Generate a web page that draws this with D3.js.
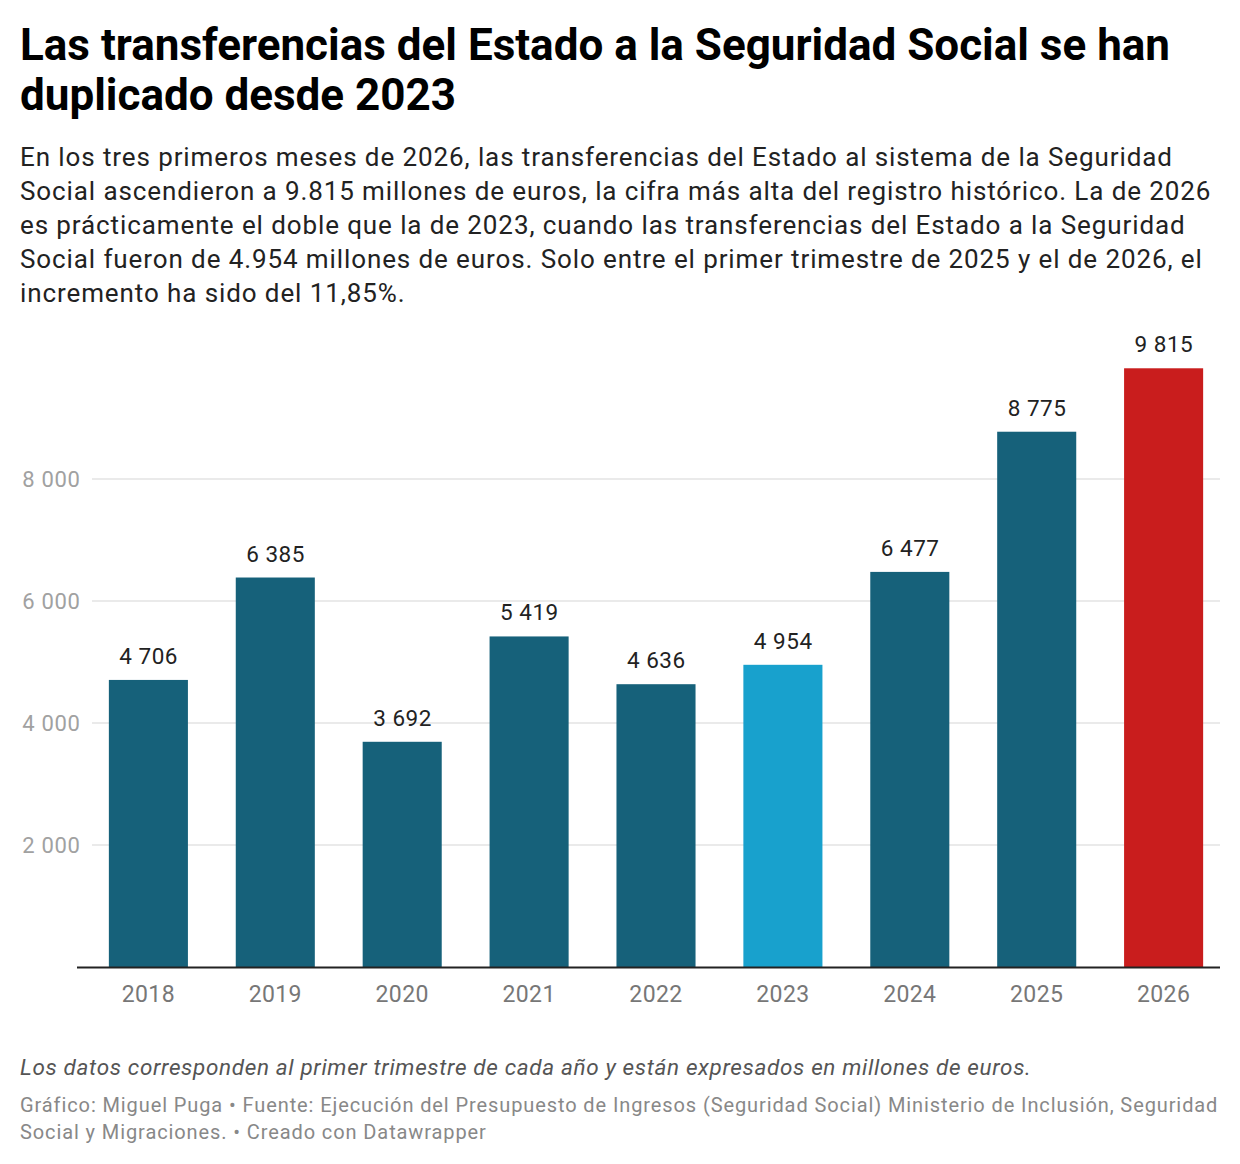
<!DOCTYPE html>
<html>
<head>
<meta charset="utf-8">
<script src="https://cdn.jsdelivr.net/npm/d3@7"></script>
<style>
  body { margin: 0; background: #fff; }
  svg { font-family: Roboto, "Noto Sans", sans-serif; }
</style>
</head>
<body>
<div id="chart"></div>
<script>
// data
const years = ["2018", "2019", "2020", "2021", "2022", "2023", "2024", "2025", "2026"]
const values = [4706, 6385, 3692, 5419, 4636, 4954, 6477, 8775, 9815]
const yTicks = [2000, 4000, 6000, 8000]

const titleLines = [
    "Las transferencias del Estado a la Seguridad Social se han",
    "duplicado desde 2023"
]
const subtitleLines = [
    "En los tres primeros meses de 2026, las transferencias del Estado al sistema de la Seguridad",
    "Social ascendieron a 9.815 millones de euros, la cifra más alta del registro histórico. La de 2026",
    "es prácticamente el doble que la de 2023, cuando las transferencias del Estado a la Seguridad",
    "Social fueron de 4.954 millones de euros. Solo entre el primer trimestre de 2025 y el de 2026, el",
    "incremento ha sido del 11,85%."
]
const note = "Los datos corresponden al primer trimestre de cada año y están expresados en millones de euros."
const creditLines = [
    "Gráfico: Miguel Puga • Fuente: Ejecución del Presupuesto de Ingresos (Seguridad Social) Ministerio de Inclusión, Seguridad",
    "Social y Migraciones. • Creado con Datawrapper"
]

function barColor(year) {
    if (year == "2023") return "#18a1cd"
    if (year == "2026") return "#c91d1d"
    return "#16617a"
}

// "4 706" style numbers
const fmt = v => d3.format(",")(v).replace(/,/g, " ")

const W = 1240, H = 1164
const svg = d3.select("#chart").append("svg").attr("width", W).attr("height", H)

// header
svg.append("g").selectAll("text")
    .data(titleLines)
    .enter()
    .append("text")
    .attr("x", 20)
    .attr("y", (d, i) => 60 + i * 50)
    .attr("font-size", 44)
    .attr("font-weight", 700)
    .attr("fill", "#000")
    .text(d => d)

svg.append("g").selectAll("text")
    .data(subtitleLines)
    .enter()
    .append("text")
    .attr("x", 20)
    .attr("y", (d, i) => 166 + i * 34)
    .attr("font-size", 26)
    .attr("letter-spacing", 0.9)
    .attr("fill", "#222")
    .text(d => d)

// chart
const x = d3.scaleBand().domain(years).range([85, 1227]).paddingInner(0.377).paddingOuter(0.188)
const y = d3.scaleLinear().domain([0, 2000]).range([967, 845])

const grid = svg.append("g")
grid.selectAll("line")
    .data(yTicks)
    .enter()
    .append("line")
    .attr("x1", 92)
    .attr("x2", 1220)
    .attr("y1", d => y(d))
    .attr("y2", d => y(d))
    .attr("stroke", "#e3e3e3")
    .attr("stroke-width", 1.3)

grid.selectAll("text")
    .data(yTicks)
    .enter()
    .append("text")
    .attr("x", 80.7)
    .attr("y", d => y(d) + 8)
    .attr("text-anchor", "end")
    .attr("font-size", 22)
    .attr("letter-spacing", 0.7)
    .attr("fill", "#a1a1a1")
    .text(d => fmt(d))

svg.append("g").selectAll("rect")
    .data(years)
    .enter()
    .append("rect")
    .attr("x", d => x(d))
    .attr("width", x.bandwidth())
    .attr("y", (d, i) => y(values[i]))
    .attr("height", (d, i) => y(0) - y(values[i]))
    .attr("fill", d => barColor(d))

svg.append("g").selectAll("text")
    .data(years)
    .enter()
    .append("text")
    .attr("x", d => x(d) + x.bandwidth() / 2 + 0.3)
    .attr("y", (d, i) => y(values[i]) - 16)
    .attr("text-anchor", "middle")
    .attr("font-size", 22.5)
    .attr("letter-spacing", 0.5)
    .attr("fill", "#222")
    .text((d, i) => fmt(values[i]))

svg.append("line")
    .attr("x1", 77)
    .attr("x2", 1220)
    .attr("y1", y(0) + 0.5)
    .attr("y2", y(0) + 0.5)
    .attr("stroke", "#222")
    .attr("stroke-width", 2)

svg.append("g").selectAll("text")
    .data(years)
    .enter()
    .append("text")
    .attr("x", d => x(d) + x.bandwidth() / 2)
    .attr("y", 1002)
    .attr("text-anchor", "middle")
    .attr("font-size", 23)
    .attr("letter-spacing", 0.4)
    .attr("fill", "#777")
    .text(d => d)

// footer
svg.append("text")
    .attr("x", 20)
    .attr("y", 1075)
    .attr("font-size", 22.5)
    .attr("font-style", "italic")
    .attr("letter-spacing", 0.65)
    .attr("fill", "#555")
    .text(note)

svg.append("g").selectAll("text")
    .data(creditLines)
    .enter()
    .append("text")
    .attr("x", 20)
    .attr("y", (d, i) => 1112 + i * 27)
    .attr("font-size", 20)
    .attr("letter-spacing", 0.9)
    .attr("fill", "#888")
    .text(d => d)
</script>
</body>
</html>
